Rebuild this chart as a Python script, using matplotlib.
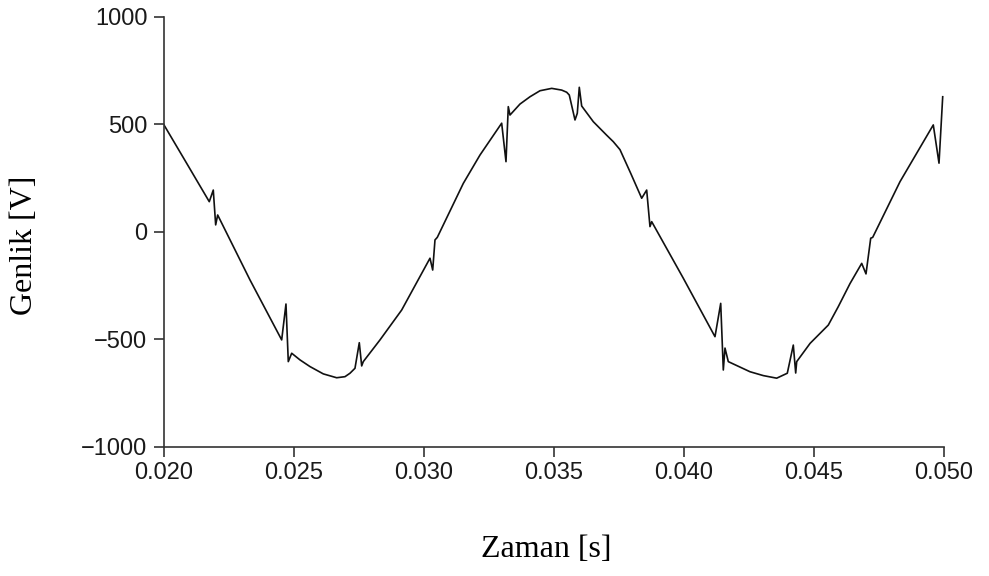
import matplotlib
matplotlib.use('Agg')
import matplotlib.pyplot as plt

# waveform (time in s, amplitude in V)
t_s = [0.02000, 0.02087, 0.021742, 0.021896, 0.021988, 0.022065, 0.023308,
       0.024527, 0.024692, 0.024781, 0.024912, 0.025231, 0.025615, 0.026127,
       0.026642, 0.026962, 0.027154, 0.027346, 0.027512, 0.027604, 0.027665,
       0.028308, 0.029142, 0.030231, 0.030335, 0.030423, 0.030512, 0.031512,
       0.032154, 0.032988, 0.033154, 0.033242, 0.033308, 0.033692, 0.034077,
       0.034462, 0.034912, 0.035296, 0.035488, 0.035588, 0.035808, 0.035896,
       0.035973, 0.036065, 0.036512, 0.037027, 0.037281, 0.037538, 0.037954,
       0.038373, 0.038565, 0.038692, 0.038758, 0.039973, 0.041192, 0.041412,
       0.041512, 0.041577, 0.041704, 0.042538, 0.043050, 0.043565, 0.043973,
       0.044204, 0.044296, 0.044335, 0.044850, 0.045550, 0.045935, 0.046385,
       0.046835, 0.047000, 0.047181, 0.047258, 0.048308, 0.049588, 0.049808,
       0.049950]
v_V = [498, 320, 141, 195, 33, 79, -223,
       -502, -335, -603, -564, -595, -626, -660,
       -678, -673, -657, -634, -515, -623, -603,
       -502, -363, -122, -177, -37, -25, 226,
       358, 506, 327, 583, 544, 595, 629,
       657, 668, 660, 650, 637, 521, 552,
       673, 586, 513, 450, 420, 383, 272,
       157, 195, 25, 48, -215, -487, -332,
       -642, -540, -603, -650, -668, -680, -657,
       -526, -656, -603, -518, -433, -347, -240,
       -146, -195, -29, -25, 234, 498, 320,
       629]

x_ticks = [0.020, 0.025, 0.030, 0.035, 0.040, 0.045, 0.050]
y_ticks = [-1000, -500, 0, 500, 1000]

fig = plt.figure(figsize=(9.89, 5.76), dpi=100)
ax = fig.add_axes([0.1658, 0.2240, 0.9545 - 0.1658, 0.9705 - 0.2240])

ax.plot(t_s, v_V, color='#111111', lw=1.2)

ax.set_xlim(0.020, 0.050)
ax.set_ylim(-1000, 1000)
ax.set_xticks(x_ticks)
ax.set_xticklabels([f'{x:.3f}' for x in x_ticks])
ax.set_yticks(y_ticks)

for s in ('top', 'right'):
    ax.spines[s].set_visible(False)
for s in ('left', 'bottom'):
    ax.spines[s].set_color('#333333')
    ax.spines[s].set_linewidth(1.2)

ax.tick_params(direction='out', length=7, width=1.2, color='#333333',
               labelcolor='#1a1a1a', labelsize=17)
ax.tick_params(axis='x', pad=4)
ax.tick_params(axis='y', pad=5)
for lab in ax.get_xticklabels() + ax.get_yticklabels():
    lab.set_family('Liberation Sans')

ax.set_xlabel('Zaman [s]', family='Liberation Serif', fontsize=23, color='black')
ax.set_ylabel('Genlik [V]', family='Liberation Serif', fontsize=23, color='black')
ax.xaxis.set_label_coords(0.49, -0.205)
ax.yaxis.set_label_coords(-0.16, 0.47)

fig.savefig('out.png', dpi=100, facecolor='white')
